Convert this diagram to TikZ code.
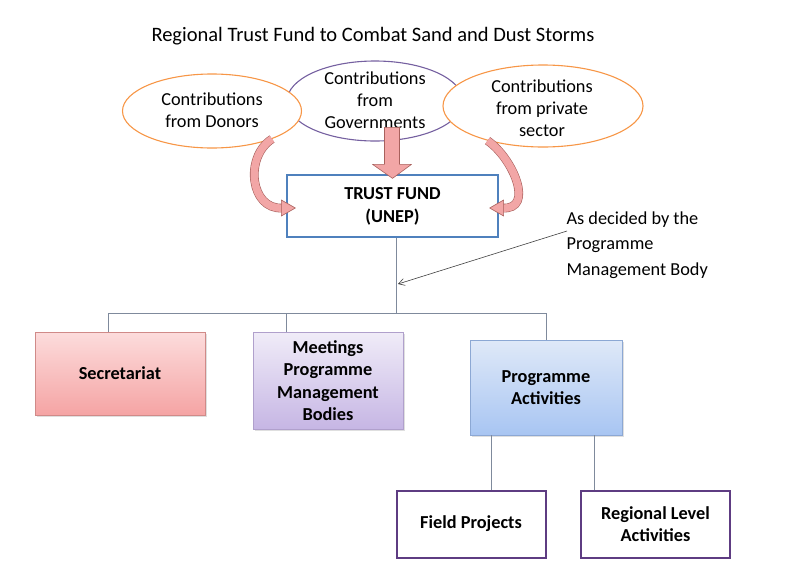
\documentclass[tikz,border=0pt]{standalone}
\usepackage{fontspec}
\setmainfont{Carlito}
\usetikzlibrary{shapes.geometric,calc,arrows.meta,shadows}
\definecolor{orng}{HTML}{F79646}
\definecolor{purp}{HTML}{7560A0}
\definecolor{tfblue}{HTML}{4F81BD}
\definecolor{linec}{HTML}{7F8A9C}
\definecolor{pinkf}{HTML}{F2A6A6}
\definecolor{pinkd}{HTML}{A8605C}
\definecolor{boxpurp}{HTML}{5E3C82}
\definecolor{secT}{HTML}{FCDCDC}
\definecolor{secB}{HTML}{F5A4A4}
\definecolor{secD}{HTML}{D08A88}
\definecolor{meetT}{HTML}{F0ECF8}
\definecolor{meetB}{HTML}{C6B6E4}
\definecolor{meetD}{HTML}{B0A0CC}
\definecolor{progT}{HTML}{DFE9F8}
\definecolor{progB}{HTML}{A8C5F2}
\definecolor{progD}{HTML}{8CA8D4}
\begin{document}
\begin{tikzpicture}[x=1pt,y=-1pt,
  every node/.style={font=\fontsize{18.3}{22}\selectfont, align=center},
  contrib/.style={ellipse, fill=white, line width=1.1pt, inner sep=0pt},
  grbox/.style={rectangle, draw=#1, line width=0.8pt, font=\fontsize{18.3}{22.5}\selectfont\bfseries,
     drop shadow={opacity=0.25, shadow xshift=1.5pt, shadow yshift=-1.5pt}},
  leaf/.style={rectangle, draw=boxpurp, line width=2pt, fill=white, minimum width=149pt, minimum height=67pt,
     font=\fontsize{18.3}{22}\selectfont\bfseries},
  conn/.style={draw=linec, line width=0.8pt},
  fatcurve/.style={draw=pinkd, line width=0.6pt, double=pinkf, double distance=7.5pt},
  fathead/.style={fill=pinkf, draw=pinkd, line width=0.6pt, line join=round}
]
\useasboundingbox (0,0) rectangle (786,573);

\node (title) at (373,36) {\fontsize{20.5}{24}\selectfont Regional Trust Fund to Combat Sand and Dust Storms};

% ellipses
\node[contrib, draw=purp, minimum width=176pt, minimum height=80pt] (gov) at (375,101) {};
\node[contrib, draw=orng, minimum width=179pt, minimum height=74pt] (donors) at (212,111) {};
\node[contrib, draw=orng, minimum width=200pt, minimum height=82pt] (priv) at (543,106) {};

% trust fund box
\node[rectangle, draw=tfblue, line width=1.3pt, fill=white, minimum width=211pt, minimum height=62pt,
      font=\fontsize{18.3}{23}\selectfont\bfseries] (tf) at (392.5,206) {TRUST FUND\\(UNEP)};

% curved fat arrows
\draw[fatcurve] (donors.-25) .. controls +(-28,18) and +(-32,2) .. ($(tf.west)+(-4,2)$) coordinate (lh);
\path[fathead] ($(lh)+(-1,-8)$) -- ($(lh)+(13,0)$) -- ($(lh)+(-1,8)$) -- cycle;
\draw[fatcurve] (priv.212) .. controls +(26,18) and +(32,2) .. ($(tf.east)+(4,2)$) coordinate (rh);
\path[fathead] ($(rh)+(1,-8)$) -- ($(rh)+(-13,0)$) -- ($(rh)+(1,8)$) -- cycle;

% texts of ellipses (on top)
\node (donT) at (212,110) {Contributions\\from Donors};
\node (govT) at (375,100) {Contributions\\from\\Governments};
\node (privT) at (542,108) {Contributions\\from private\\sector};

% straight down fat arrow
\coordinate (dtip) at ($(tf.north)+(0,4)$);
\path[fathead] ($(dtip)+(-8,-51)$) -- ($(dtip)+(7,-51)$) -- ($(dtip)+(7,-14)$) -- ($(dtip)+(19,-14)$)
   -- (dtip) -- ($(dtip)+(-20,-14)$) -- ($(dtip)+(-8,-14)$) -- cycle;

% annotation
\node[anchor=west, align=left, font=\fontsize{18.3}{25.5}\selectfont] (note) at (563,245) {As decided by the\\Programme\\Management Body};

% tree
\coordinate (j) at (396,313);
\node[grbox=secD, top color=secT, bottom color=secB, minimum width=170pt, minimum height=83pt] (sec) at (120,373.5) {Secretariat};
\node[grbox=meetD, top color=meetT, bottom color=meetB, minimum width=150pt, minimum height=97pt] (meet) at (328,380.5) {Meetings\\Programme\\Management\\Bodies};
\node[grbox=progD, top color=progT, bottom color=progB, minimum width=152pt, minimum height=95pt] (prog) at (546,387.5) {Programme\\Activities};
\node[leaf] (field) at (471,524) {Field Projects};
\node[leaf] (reg) at (655.5,524) {Regional Level\\Activities};

\coordinate (d1) at (108,313);
\coordinate (d2) at (286,313);
\coordinate (d3) at (546,313);
\coordinate (e1) at (491,460);
\coordinate (e2) at (594,460);

\draw[conn] (tf.south -| j) -- (j);
\draw[conn] (d1) -- (d3);
\draw[conn] (d1) -- (d1 |- sec.north);
\draw[conn] (d2) -- (d2 |- meet.north);
\draw[conn] (d3) -- (prog.north);
\draw[conn] (e1 |- prog.south) -- (e1 |- field.north);
\draw[conn] (e2 |- prog.south) -- (e2 |- reg.north);

\draw[draw=black!75, line width=0.6pt, -{Straight Barb[length=6pt,width=7pt]}] (note.west) ++(4,-14) coordinate (ns) -- (398,284);
\end{tikzpicture}
\end{document}
